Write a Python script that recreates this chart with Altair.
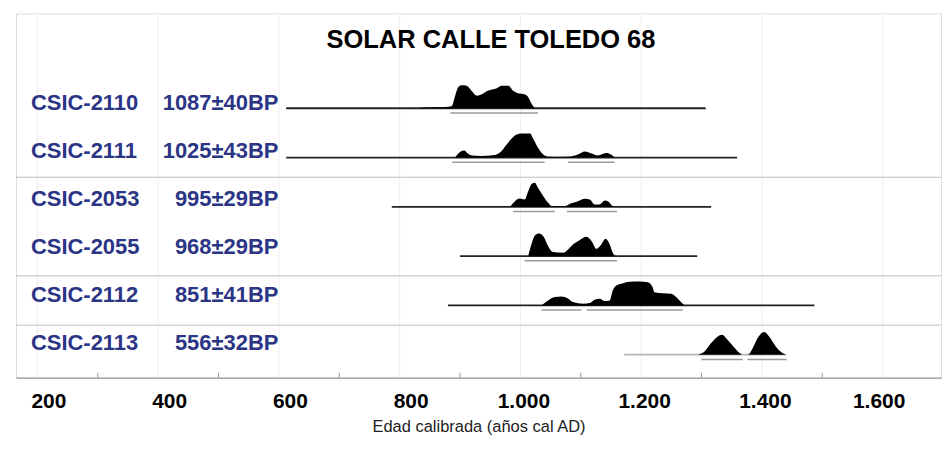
import altair as alt
import pandas as pd

# ---------------- data ----------------
samples = ["CSIC-2110", "CSIC-2111", "CSIC-2053", "CSIC-2055", "CSIC-2112", "CSIC-2113"]
bp_ages = ["1087±40BP", "1025±43BP", "995±29BP", "968±29BP", "851±41BP", "556±32BP"]

# calibrated probability curves (cal AD year, relative probability)
y2110 = [830, 840, 875, 886, 892, 897, 903, 911, 919, 928, 936, 946, 961, 969, 980, 988, 996, 1007, 1013, 1019, 1024]
p2110 = [0, 0.8, 1.2, 2, 12.5, 21, 23, 22.5, 17.5, 12.5, 14, 17.5, 20, 22.5, 22.5, 17.5, 15, 14, 11, 4, 0]

y2111 = [892, 900, 907, 913, 920, 933, 958, 968, 976, 984, 994, 1002, 1016, 1021, 1029, 1037, 1045, 1065, 1082, 1095, 1107, 1118, 1128, 1136, 1143, 1150, 1156]
p2111 = [0, 5.5, 7, 4, 2, 1.5, 2.5, 6, 12, 18, 23, 24, 24, 19, 10, 3.5, 1, 0.7, 1, 3, 6, 4, 2, 3.5, 4.5, 3, 0]

y2053 = [983, 991, 999, 1007, 1013, 1019, 1024, 1029, 1038, 1046, 1052, 1074, 1082, 1093, 1107, 1115, 1123, 1131, 1140, 1145, 1153, 1159]
p2053 = [0, 5.7, 8.3, 7.3, 15.7, 23, 24, 19, 10.7, 4, 0.7, 0.7, 3, 5, 8, 7.3, 2.3, 2.3, 6.3, 5.7, 0.7, 0]

y2055 = [1013, 1019, 1024, 1031, 1038, 1046, 1054, 1071, 1079, 1087, 1098, 1109, 1118, 1126, 1134, 1141, 1148, 1153, 1158]
p2055 = [0, 13.3, 20.7, 22.7, 20, 10, 4, 3.3, 6.7, 11.7, 16, 19.3, 15, 7.3, 11.7, 17.3, 11.7, 3.3, 0]

y2112 = [1035, 1046, 1057, 1068, 1079, 1087, 1104, 1115, 1123, 1131, 1140, 1148, 1153, 1159, 1170, 1181, 1198, 1211, 1219, 1222, 1236, 1250, 1258, 1266, 1272]
p2112 = [0, 5, 8.3, 9, 7, 3.3, 1.7, 2.3, 5.7, 6.7, 4.3, 5, 15, 20, 22.3, 23.7, 24, 23.3, 18.3, 13.3, 12.3, 11.7, 8.3, 3.3, 0]

y2113 = [1294, 1305, 1316, 1327, 1334, 1343, 1355, 1363, 1368, 1377, 1385, 1393, 1404, 1412, 1423, 1434, 1440]
p2113 = [0, 3.3, 11.7, 18.3, 20, 15, 6.7, 1.7, 0, 0, 6.7, 16.7, 22.7, 18.3, 8.3, 1.7, 0]

curve_years = [y2110, y2111, y2053, y2055, y2112, y2113]
curve_probs = [p2110, p2111, p2053, p2055, p2112, p2113]

# extent of the plotted calibration line for each sample (cal AD)
line_start = [612, 612, 787, 900, 880, 1172]
line_end = [1307, 1359, 1316, 1293, 1487, 1440]

# probability ranges drawn under each curve: (row, from, to)
range_rows = [0, 1, 1, 2, 2, 3, 4, 4, 5, 5]
range_from = [884, 887, 1079, 988, 1077, 1007, 1035, 1110, 1300, 1376]
range_to = [1029, 1040, 1156, 1057, 1160, 1160, 1101, 1269, 1368, 1441]

# axis
label_years = [200, 400, 600, 800, 1000, 1200, 1400, 1600]
tick_years = [300, 500, 700, 900, 1100, 1300, 1500]
separators_after = [1, 3, 4]

title_text = "SOLAR CALLE TOLEDO 68"
x_title = "Edad calibrada (años cal AD)"

# ---------------- tables ----------------
curve_rows = []
for i, (yrs, ps) in enumerate(zip(curve_years, curve_probs)):
    for yr, p in zip(yrs, ps):
        curve_rows.append({"sample": samples[i], "row": i, "year": yr, "p": p})
curves = pd.DataFrame(curve_rows)

lines = pd.DataFrame({"sample": samples, "row": list(range(len(samples))),
                      "start": line_start, "end": line_end})
ranges = pd.DataFrame({"row": range_rows, "start": range_from, "end": range_to})
labels = pd.DataFrame({"row": list(range(len(samples))), "code": samples, "bp": bp_ages})
ticks = pd.DataFrame({"year": tick_years})
seps = pd.DataFrame({"row": separators_after})
title_df = pd.DataFrame({"t": [title_text]})

W, H = 927, 365
ROW_PX = 49.4
K = 1 / ROW_PX

xs = alt.Scale(domain=[164.5, 1696.7], nice=False, zero=False)
ys = alt.Scale(domain=[-1.923, 5.466], reverse=True, nice=False, zero=False)

navy = "#2b3585"
font = "Liberation Sans"

x_axis = alt.Axis(values=label_years, labelExpr="replace(format(datum.value, ','), ',', '.')",
                  labelFont=font, labelFontSize=21, labelFontWeight="bold", labelColor="black",
                  labelPadding=13,
                  labelOffset={"expr": "datum.value < 1000 ? 11 : (datum.value == 1600 ? -4 : 3)"},
                  ticks=False, tickSize=0,
                  domainColor="#9a9a9a", domainWidth=1.2,
                  grid=True, gridColor="#efefef",
                  titleFont=font, titleFontSize=16.5, titleFontWeight="normal",
                  titleColor="#222222", titlePadding=7, labelFlush=False)


def X(field):
    return alt.X(field, scale=xs, axis=x_axis, title=x_title)


sep_layer = alt.Chart(seps).transform_calculate(
    yy="datum.row + 0.4"
).mark_rule(color="#bdbdbd", strokeWidth=1).encode(
    y=alt.Y("yy:Q", scale=ys, axis=None),
    x=alt.value(0), x2=alt.value(W)
)

line_layer = alt.Chart(lines).mark_rule(strokeWidth=1.8).encode(
    x=X("start:Q"),
    x2="end:Q",
    y=alt.Y("row:Q", scale=ys, axis=None),
    color=alt.condition("datum.row == 5", alt.value("#b5b5b5"), alt.value("#222222"))
)

range_layer = alt.Chart(ranges).transform_calculate(
    yy="datum.row + 0.095"
).mark_rule(strokeWidth=1.5, color="#9a9a9a").encode(
    x=X("start:Q"),
    x2="end:Q",
    y=alt.Y("yy:Q", scale=ys, axis=None)
)

area_layer = alt.Chart(curves).transform_calculate(
    top=f"datum.row - datum.p * {K}"
).mark_area(color="black", interpolate="monotone").encode(
    x=X("year:Q"),
    y=alt.Y("top:Q", scale=ys, axis=None, stack=None),
    y2="row:Q",
    detail="sample:N"
)

tick_layer = alt.Chart(ticks).mark_rule(color="#9a9a9a", strokeWidth=1).encode(
    x=X("year:Q"),
    y=alt.value(H - 5), y2=alt.value(H)
)

code_layer = alt.Chart(labels).transform_calculate(
    ly="0.04 + 0.973 * datum.row"
).mark_text(align="left", baseline="alphabetic", font=font, fontSize=22,
            fontWeight="bold", color=navy).encode(
    x=alt.value(15),
    y=alt.Y("ly:Q", scale=ys, axis=None),
    text="code:N"
)

bp_layer = alt.Chart(labels).transform_calculate(
    ly="0.04 + 0.973 * datum.row"
).mark_text(align="right", baseline="alphabetic", font=font, fontSize=22,
            fontWeight="bold", color=navy).encode(
    x=alt.value(263),
    y=alt.Y("ly:Q", scale=ys, axis=None),
    text="bp:N"
)

title_layer = alt.Chart(title_df).mark_text(align="center", baseline="alphabetic", font=font,
                                            fontSize=25.5, fontWeight="bold", color="black").encode(
    x=alt.value(476), y=alt.value(35), text="t:N"
)

chart = alt.layer(
    sep_layer, line_layer, range_layer, area_layer, tick_layer, code_layer, bp_layer, title_layer
).properties(
    width=W, height=H,
    padding={"left": 7, "top": 5, "right": 0, "bottom": 0}
).configure_view(stroke="#a8a8a8", strokeWidth=1).configure(background="white")

chart.save("out.html", embed_options={"renderer": "svg", "actions": False})
